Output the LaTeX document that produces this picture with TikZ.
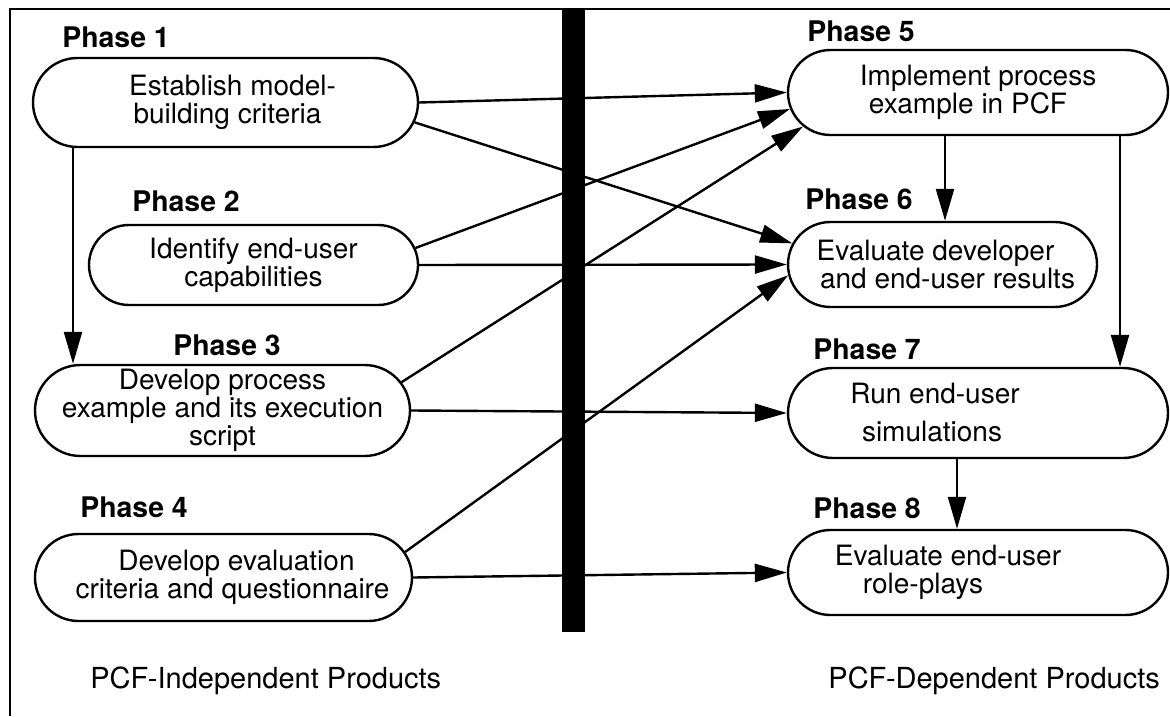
\documentclass[tikz,border=0pt]{standalone}
\usepackage{fontspec}
\setmainfont{TeX Gyre Heros}
\usetikzlibrary{shapes.misc,arrows.meta}
\newcommand{\gp}[1]{\rule{#1pt}{0pt}}
\begin{document}
\begin{tikzpicture}[x=0.5pt,y=-0.5pt,
  pill/.style={draw, line width=1.2pt, rounded rectangle, inner sep=0pt, align=center,
    font={\fontsize{14}{14}\selectfont}},
  phase/.style={anchor=base west, inner sep=0pt, font={\fontsize{14.2}{14}\selectfont\bfseries}},
  foot/.style={anchor=base west, inner sep=0pt, font={\fontsize{14.5}{14}\selectfont}},
  arr/.style={line width=1.2pt, -{Triangle[length=16pt,width=9pt]}},
  frame/.style={line width=1.1pt},
]
\useasboundingbox (0,0) rectangle (1170,716);

% frame
\draw[frame] (10,716) -- (10,9) -- (1170,9);

% phase labels
\node[phase] (p1) at (62,48)  {Phase 1};
\node[phase] (p2) at (132,212) {Phase 2};
\node[phase] (p3) at (173,355) {Phase 3};
\node[phase] (p4) at (80,517)  {Phase 4};
\node[phase] (p5) at (807,42)  {Phase 5};
\node[phase] (p6) at (805,210) {Phase 6};
\node[phase] (p7) at (813,359) {Phase 7};
\node[phase] (p8) at (813,518) {Phase 8};

% process nodes
\node[pill, minimum width=192.5pt, minimum height=44.5pt] (n1) at (225.5,102.5)
  {\gp{7}Establish model-\\\gp{7}building criteria\gp{5}};
\node[pill, minimum width=164.5pt, minimum height=40pt] (n2) at (253.5,265)
  {Identify end-user\\capabilities};
\node[pill, minimum width=187.5pt, minimum height=45.5pt] (n3) at (222.5,410.5)
  {Develop process\\example and its execution\\script};
\node[pill, minimum width=188.5pt, minimum height=43.5pt] (n4) at (223.5,577.5)
  {\gp{13}Develop evaluation\\\gp{9}criteria and questionnaire};
\node[pill, minimum width=190pt, minimum height=42.5pt] (n5) at (978,92.5)
  {Implement process\\example in PCF\gp{10}};
\node[pill, minimum width=154.5pt, minimum height=42.5pt] (n6) at (942.5,264.5)
  {Evaluate developer\gp{7}\\\gp{5}and end-user results};
\node[pill, minimum width=190pt, minimum height=45pt] (n7) at (978,413)
  {Run end-user\gp{43}\\[5pt]simulations\gp{46}};
\node[pill, minimum width=190pt, minimum height=42.5pt] (n8) at (978,572.5)
  {Evaluate end-user\gp{30}\\role-plays\gp{55}};

% footers
\node[foot] (f1) at (90,688)  {PCF-Independent Products};
\node[foot] (f2) at (828,688) {PCF-Dependent Products};

% vertical guides
\coordinate (v13) at (73,0);
\coordinate (v56) at (945,0);
\coordinate (v57) at (1120,0);
\coordinate (v78) at (957,0);

% connectors
\draw[arr] (n1.east) -- (n5.west);
\draw[arr] (n1.-6) -- (n6.172);
\draw[arr] (n2.6) -- (n5.185);
\draw[arr] (n2.east) -- (n6.west);
\draw[arr] (n3.9) -- (n5.191);
\draw[arr] (n4.8) -- (n6.184);
\draw[arr] (n3.east) -- (n7.west);
\draw[arr] (n4.east) -- (n8.west);
\draw[arr] (n1.south -| v13) -- (n3.north -| v13);
\draw[arr] (n5.south -| v56) -- (n6.north -| v56);
\draw[arr] (n5.south -| v57) -- (n7.north -| v57);
\draw[arr] (n7.south -| v78) -- (n8.north -| v78);

% divider bar
\fill (562,9) rectangle (585,632);
\end{tikzpicture}
\end{document}
